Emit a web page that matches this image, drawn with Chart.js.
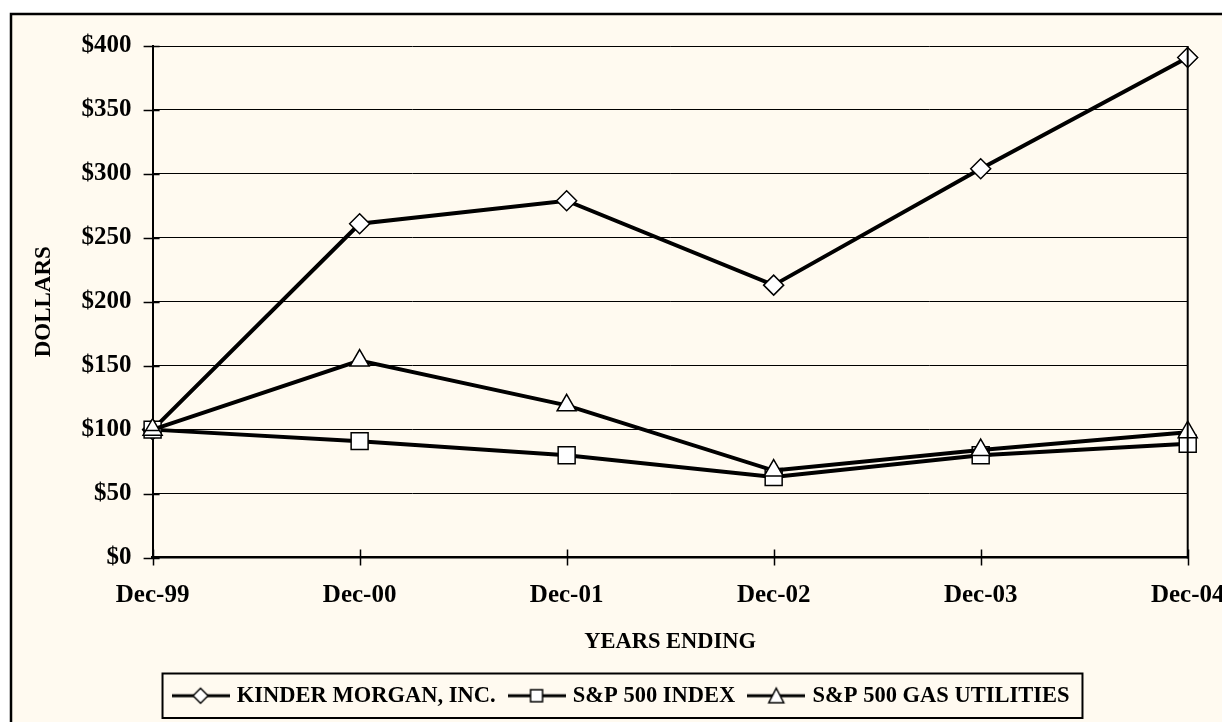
<!DOCTYPE html>
<html>
<head>
<meta charset="utf-8">
<script src="https://cdn.jsdelivr.net/npm/chart.js@4.4.1/dist/chart.umd.min.js"></script>
<style>
html, body { margin: 0; padding: 0; background: #fff; overflow: hidden; }
#wrap { width: 1222px; height: 722px; overflow: hidden; position: relative; }
#chart { position: absolute; left: 0; top: 0; }
</style>
</head>
<body>
<div id="wrap"><canvas id="chart" width="1248" height="745"></canvas></div>
<script>
// values
const years = ['Dec-99', 'Dec-00', 'Dec-01', 'Dec-02', 'Dec-03', 'Dec-04'];
const kinderMorgan = [100, 261, 279, 213, 304, 391];
const sp500Index = [100, 91, 80, 63, 80, 89];
const gasUtilities = [100, 154, 119, 68, 84, 98];
const seriesNames = ['KINDER MORGAN, INC.', 'S&P 500 INDEX', 'S&P 500 GAS UTILITIES'];
const yMin = 0, yMax = 400, yStep = 50;

const serif = '"Liberation Serif", "Times New Roman", serif';
const cream = '#FFFAF0';

// legend symbol: line with the marker in the middle
function legendIcon(kind) {
    let c = document.createElement('canvas');
    c.width = 58; c.height = 22;
    let ctx = c.getContext('2d');
    ctx.strokeStyle = '#000';
    ctx.lineWidth = 3;
    ctx.beginPath(); ctx.moveTo(0, 11); ctx.lineTo(58, 11); ctx.stroke();
    ctx.fillStyle = '#fff';
    ctx.lineWidth = 1.5;
    ctx.beginPath();
    if (kind == 'diamond') {
        ctx.moveTo(21.5, 11); ctx.lineTo(29, 3.5); ctx.lineTo(36.5, 11); ctx.lineTo(29, 18.5); ctx.closePath();
    } else if (kind == 'square') {
        ctx.rect(23, 5, 12, 12);
    } else {
        ctx.moveTo(29, 3.5); ctx.lineTo(36.5, 18); ctx.lineTo(21.5, 18); ctx.closePath();
    }
    ctx.fill(); ctx.stroke();
    return c;
}
const icons = [legendIcon('diamond'), legendIcon('square'), legendIcon('triangle')];

const framePlugin = {
    id: 'frame',
    beforeDraw(chart) {
        const ctx = chart.ctx;
        ctx.save();
        ctx.fillStyle = '#fff';
        ctx.fillRect(0, 0, chart.width, chart.height);
        ctx.fillStyle = cream;
        ctx.fillRect(11, 14, chart.width, chart.height);
        ctx.strokeStyle = '#000';
        ctx.lineWidth = 2.5;
        ctx.strokeRect(11, 14, chart.width - 24, chart.height - 30);
        ctx.restore();
    },
    afterLayout(chart) {
        // legend box sits a bit right of centre in the original
        chart.legend.left += 6;
        chart.legend.right += 6;
    },
    afterDraw(chart) {
        const ctx = chart.ctx;
        const area = chart.chartArea;
        const xs = chart.scales.x, ys = chart.scales.y;
        ctx.save();
        ctx.strokeStyle = '#000';
        // right edge of plot
        ctx.lineWidth = 2;
        ctx.beginPath(); ctx.moveTo(area.right, area.top); ctx.lineTo(area.right, area.bottom + 1); ctx.stroke();
        // tick marks crossing the axes
        ctx.lineWidth = 1.5;
        ctx.beginPath();
        xs.ticks.forEach((t, i) => {
            let x = Math.round(xs.getPixelForTick(i)) + 0.5;
            ctx.moveTo(x, area.bottom - 8); ctx.lineTo(x, area.bottom + 8);
        });
        ys.ticks.forEach((t, i) => {
            let y = Math.round(ys.getPixelForTick(i)) + 0.5;
            ctx.moveTo(area.left - 9, y); ctx.lineTo(area.left + 7, y);
        });
        ctx.stroke();
        // box round the legend
        const boxes = chart.legend.legendHitBoxes;
        if (boxes && boxes.length) {
            let l = Math.min(...boxes.map(b => b.left));
            let r = Math.max(...boxes.map(b => b.left + b.width));
            let t = Math.min(...boxes.map(b => b.top));
            let b2 = Math.max(...boxes.map(b => b.top + b.height));
            ctx.lineWidth = 2;
            ctx.strokeRect(l - 13, t - 11, r - l + 26, b2 - t + 22);
        }
        ctx.restore();
    }
};

new Chart(document.getElementById('chart'), {
    type: 'line',
    data: {
        labels: years,
        datasets: [{
            label: seriesNames[0],
            data: kinderMorgan,
            borderColor: '#000',
            borderWidth: 4,
            pointStyle: 'rectRot',
            pointRadius: 10,
            pointBackgroundColor: '#fff',
            pointBorderColor: '#000',
            pointBorderWidth: 1.5,
            tension: 0,
            order: 2
        }, {
            label: seriesNames[1],
            data: sp500Index,
            borderColor: '#000',
            borderWidth: 4,
            pointStyle: 'rect',
            pointRadius: 12,
            pointBackgroundColor: '#fff',
            pointBorderColor: '#000',
            pointBorderWidth: 1.5,
            tension: 0,
            order: 1
        }, {
            label: seriesNames[2],
            data: gasUtilities,
            borderColor: '#000',
            borderWidth: 4,
            pointStyle: 'triangle',
            pointRadius: 11,
            pointBackgroundColor: '#fff',
            pointBorderColor: '#000',
            pointBorderWidth: 1.5,
            tension: 0,
            order: 0
        }]
    },
    options: {
        responsive: false,
        animation: false,
        layout: { padding: { left: 30, right: 45, top: 46, bottom: 28 } },
        plugins: {
            tooltip: { enabled: false },
            legend: {
                position: 'bottom',
                labels: {
                    usePointStyle: true,
                    pointStyleWidth: 50,
                    padding: 16,
                    color: '#000',
                    font: { family: serif, size: 22.5, weight: 'bold' },
                    generateLabels: chart => chart.data.datasets.map((ds, i) => ({
                        text: ds.label,
                        datasetIndex: i,
                        pointStyle: icons[i],
                        fillStyle: '#fff',
                        strokeStyle: '#000',
                        lineWidth: 0,
                        hidden: false,
                        fontColor: '#000'
                    }))
                }
            }
        },
        scales: {
            x: {
                offset: false,
                grid: { display: true, drawOnChartArea: false, drawTicks: false },
                border: { color: '#000', width: 2.5 },
                ticks: {
                    padding: 23.5,
                    color: '#000',
                    maxRotation: 0,
                    autoSkip: false,
                    font: { family: serif, size: 25, weight: 'bold' }
                },
                title: {
                    display: true,
                    text: 'YEARS ENDING',
                    color: '#000',
                    padding: { top: -6, bottom: 13 },
                    font: { family: serif, size: 22.5, weight: 'bold' }
                }
            },
            y: {
                min: yMin,
                max: yMax,
                grid: { color: '#000', lineWidth: 1, drawTicks: false },
                border: { color: '#000', width: 2 },
                ticks: {
                    stepSize: yStep,
                    padding: 21,
                    color: '#000',
                    font: { family: serif, size: 25, weight: 'bold' },
                    callback: v => '$' + v
                },
                title: {
                    display: true,
                    text: 'DOLLARS',
                    color: '#000',
                    padding: { top: 0, bottom: 3 },
                    font: { family: serif, size: 23, weight: 'bold' }
                }
            }
        }
    },
    plugins: [framePlugin]
});
</script>
</body>
</html>
